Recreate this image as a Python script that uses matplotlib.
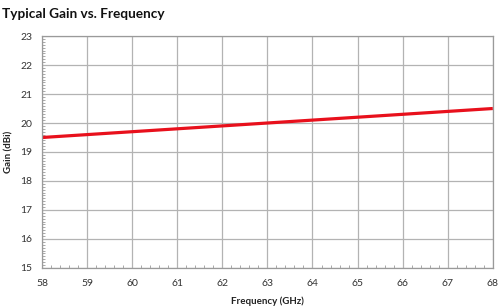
import matplotlib
matplotlib.use("Agg")
import matplotlib.pyplot as plt
from matplotlib.ticker import MultipleLocator

freq_ghz = [58, 59, 60, 61, 62, 63, 64, 65, 66, 67, 68]
gain_dbi = [19.5, 19.6, 19.7, 19.8, 19.9, 20.0, 20.1, 20.2, 20.3, 20.4, 20.5]
x_ticks = [58, 59, 60, 61, 62, 63, 64, 65, 66, 67, 68]
y_ticks = [15, 16, 17, 18, 19, 20, 21, 22, 23]

plt.rcParams['font.family'] = ['Lato', 'DejaVu Sans']

fig = plt.figure(figsize=(5.02, 3.08), dpi=100)
ax = fig.add_axes([0.0837, 0.130, 0.898, 0.753])

ax.plot(freq_ghz, gain_dbi, color='#e8101c', linewidth=2.3, solid_capstyle='butt')
ax.set_xlim(58, 68)
ax.set_ylim(15, 23)
ax.set_xticks(x_ticks)
ax.set_yticks(y_ticks)
ax.xaxis.set_minor_locator(MultipleLocator(0.2))
ax.yaxis.set_minor_locator(MultipleLocator(0.1))
ax.grid(True, which='major', color='#b3b3b3', linewidth=0.9)
ax.set_axisbelow(True)
for s in ax.spines.values():
    s.set_color('#9a9a9a')
    s.set_linewidth(0.9)
ax.tick_params(which='major', length=0, labelsize=7.5, colors='#333333')
ax.tick_params(axis='x', which='major', pad=8)
ax.tick_params(axis='y', which='major', pad=7)
ax.tick_params(which='minor', direction='in', length=2.5, color='#9a9a9a', width=0.6)
ax.tick_params(axis='x', which='minor', top=False)
ax.tick_params(axis='y', which='minor', right=False)
ax.set_xlabel('Frequency (GHz)', fontsize=7, fontweight='bold', color='#222222', labelpad=6)
ax.set_ylabel('Gain (dBi)', fontsize=7, fontweight='bold', color='#222222', labelpad=5)
fig.text(0.004, 0.975, 'Typical Gain vs. Frequency', fontsize=9.8, fontweight='bold',
         color='#111111', ha='left', va='top')

fig.savefig('out.png', dpi=100)
